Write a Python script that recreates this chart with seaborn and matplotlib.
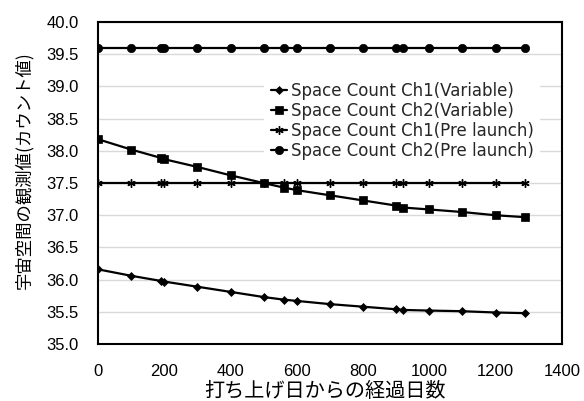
import matplotlib
matplotlib.use("Agg")
import matplotlib.pyplot as plt
import seaborn as sns
import pandas as pd

days = [0, 100, 190, 200, 300, 400, 500, 560, 600, 700, 800, 900, 920, 1000, 1100, 1200, 1290]
ch1_variable = [36.16, 36.06, 35.98, 35.97, 35.89, 35.81, 35.73, 35.69, 35.67, 35.62, 35.58, 35.54, 35.53, 35.52, 35.51, 35.49, 35.48]
ch2_variable = [38.18, 38.02, 37.89, 37.87, 37.75, 37.62, 37.50, 37.43, 37.39, 37.31, 37.23, 37.15, 37.12, 37.09, 37.05, 37.00, 36.97]
ch1_prelaunch = [37.5] * len(days)
ch2_prelaunch = [39.6] * len(days)

labels = ["Space Count Ch1(Variable)", "Space Count Ch2(Variable)",
          "Space Count Ch1(Pre launch)", "Space Count Ch2(Pre launch)"]
x_label = "打ち上げ日からの経過日数"
y_label = "宇宙空間の観測値(カウント値)"

sns.set_theme(style="white")
plt.rcParams['font.family'] = ['Liberation Sans', 'Noto Sans CJK JP', 'DejaVu Sans']

fig = plt.figure(figsize=(5.84, 4.01), dpi=100)
ax = fig.add_axes([0.168, 0.142, 0.794, 0.803])

series = [ch1_variable, ch2_variable, ch1_prelaunch, ch2_prelaunch]
markers = ["D", "s", (6, 2, 0), "o"]
msizes = [4, 6, 6, 6]
for vals, lab, mk, ms in zip(series, labels, markers, msizes):
    df = pd.DataFrame({"day": days, "val": vals})
    sns.lineplot(data=df, x="day", y="val", ax=ax, color="black", linewidth=1.6,
                 marker=mk, markersize=ms, markeredgecolor="black",
                 markeredgewidth=1.0 if mk == (6, 2, 0) else 0.5, label=lab)

ax.set_xlim(0, 1400)
ax.set_ylim(35.0, 40.0)
ax.set_xticks(range(0, 1401, 200))
ax.set_yticks([35 + 0.5 * i for i in range(11)])
ax.set_yticklabels([f"{35 + 0.5 * i:.1f}" for i in range(11)])
ax.yaxis.grid(True, color="#d9d9d9", linewidth=1.0)
ax.xaxis.grid(False)
for s in ax.spines.values():
    s.set_color("black")
    s.set_linewidth(1.5)
ax.tick_params(axis="x", length=0, pad=14, labelsize=12, colors="black")
ax.tick_params(axis="y", length=0, pad=14, labelsize=12, colors="black")

ax.set_xlabel(x_label, fontsize=14.5, family=['Noto Sans CJK JP'], color="black")
ax.xaxis.set_label_coords(0.49, -0.115)
ax.set_ylabel(y_label, fontsize=12.5, family=['Noto Sans CJK JP'], color="black")
ax.yaxis.set_label_coords(-0.14, 0.54)

leg = ax.legend(loc="upper left", bbox_to_anchor=(0.34, 0.86),
                prop={"family": ["DejaVu Sans"], "size": 12},
                frameon=True, facecolor="white", edgecolor="white", framealpha=1.0,
                handlelength=1.0, handletextpad=0.2, labelspacing=0.12, borderpad=0.4)
leg.get_frame().set_linewidth(0)

fig.savefig("out.png", dpi=100)
